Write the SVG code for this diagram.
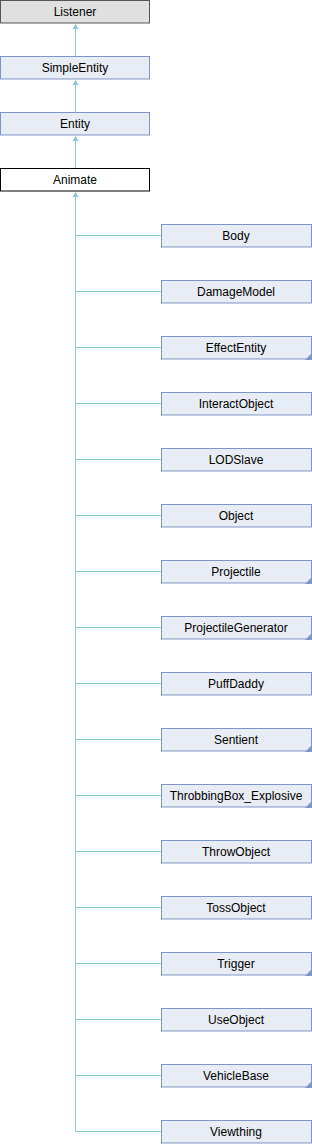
<svg xmlns="http://www.w3.org/2000/svg" width="312" height="1144" viewBox="0 0 312 1144">
<style>
.n rect{fill:#E8ECF4;stroke:#7C95C6;stroke-width:1}
.g rect{fill:#E0E0E0;stroke:#555555}
.w rect{fill:#FFFFFF;stroke:#000000}
text{font-family:"Liberation Sans",Arial,sans-serif;font-size:12px;fill:#000;text-anchor:middle}
.e{stroke:#8CC6E0;stroke-width:1;fill:none}
.a{fill:#8CC6E0}
.c{fill:#7C95C6}
</style>
<rect width="312" height="1144" fill="#FFFFFF"/>
<g id="edges">
<path class="e" d="M75.5 28V56M75.5 84V112M75.5 140V168M75.5 196V1131.5"/>
<path class="a" d="M75.5 24l-3 5h6zM75.5 80l-3 5h6zM75.5 136l-3 5h6zM75.5 192l-3 5h6z"/>
<path class="e" d="M75.5 235.5H161M75.5 291.5H161M75.5 347.5H161M75.5 403.5H161M75.5 459.5H161M75.5 515.5H161M75.5 571.5H161M75.5 627.5H161M75.5 683.5H161M75.5 739.5H161M75.5 795.5H161M75.5 851.5H161M75.5 907.5H161M75.5 963.5H161M75.5 1019.5H161M75.5 1075.5H161M75.5 1131.5H161"/>
</g>
<g id="Listener" class="g"><rect x="0.5" y="0.5" width="149" height="22.5"/><text x="75" y="16">Listener</text></g>
<g id="SimpleEntity" class="n"><rect x="0.5" y="56.5" width="149" height="22.5"/><text x="75" y="72">SimpleEntity</text></g>
<g id="Entity" class="n"><rect x="0.5" y="112.5" width="149" height="22.5"/><text x="75" y="128">Entity</text></g>
<g id="Animate" class="w"><rect x="0.5" y="168.5" width="149" height="22.5"/><text x="75" y="184">Animate</text></g>
<g id="Body" class="n"><rect x="161.5" y="224.5" width="150" height="22.5"/><text x="236" y="240">Body</text></g>
<g id="DamageModel" class="n"><rect x="161.5" y="280.5" width="150" height="22.5"/><text x="236" y="296">DamageModel</text></g>
<g id="EffectEntity" class="n"><rect x="161.5" y="336.5" width="150" height="22.5"/><text x="236" y="352">EffectEntity</text><path class="c" d="M312 353v7h-7z"/></g>
<g id="InteractObject" class="n"><rect x="161.5" y="392.5" width="150" height="22.5"/><text x="236" y="408">InteractObject</text></g>
<g id="LODSlave" class="n"><rect x="161.5" y="448.5" width="150" height="22.5"/><text x="236" y="464">LODSlave</text></g>
<g id="Object" class="n"><rect x="161.5" y="504.5" width="150" height="22.5"/><text x="236" y="520">Object</text></g>
<g id="Projectile" class="n"><rect x="161.5" y="560.5" width="150" height="22.5"/><text x="236" y="576">Projectile</text><path class="c" d="M312 577v7h-7z"/></g>
<g id="ProjectileGenerator" class="n"><rect x="161.5" y="616.5" width="150" height="22.5"/><text x="236" y="632">ProjectileGenerator</text><path class="c" d="M312 633v7h-7z"/></g>
<g id="PuffDaddy" class="n"><rect x="161.5" y="672.5" width="150" height="22.5"/><text x="236" y="688">PuffDaddy</text></g>
<g id="Sentient" class="n"><rect x="161.5" y="728.5" width="150" height="22.5"/><text x="236" y="744">Sentient</text><path class="c" d="M312 745v7h-7z"/></g>
<g id="ThrobbingBox_Explosive" class="n"><rect x="161.5" y="784.5" width="150" height="22.5"/><text x="236" y="800">ThrobbingBox_Explosive</text><path class="c" d="M312 801v7h-7z"/></g>
<g id="ThrowObject" class="n"><rect x="161.5" y="840.5" width="150" height="22.5"/><text x="236" y="856">ThrowObject</text></g>
<g id="TossObject" class="n"><rect x="161.5" y="896.5" width="150" height="22.5"/><text x="236" y="912">TossObject</text></g>
<g id="Trigger" class="n"><rect x="161.5" y="952.5" width="150" height="22.5"/><text x="236" y="968">Trigger</text><path class="c" d="M312 969v7h-7z"/></g>
<g id="UseObject" class="n"><rect x="161.5" y="1008.5" width="150" height="22.5"/><text x="236" y="1024">UseObject</text></g>
<g id="VehicleBase" class="n"><rect x="161.5" y="1064.5" width="150" height="22.5"/><text x="236" y="1080">VehicleBase</text><path class="c" d="M312 1081v7h-7z"/></g>
<g id="Viewthing" class="n"><rect x="161.5" y="1120.5" width="150" height="22.5"/><text x="236" y="1136">Viewthing</text></g>
</svg>
